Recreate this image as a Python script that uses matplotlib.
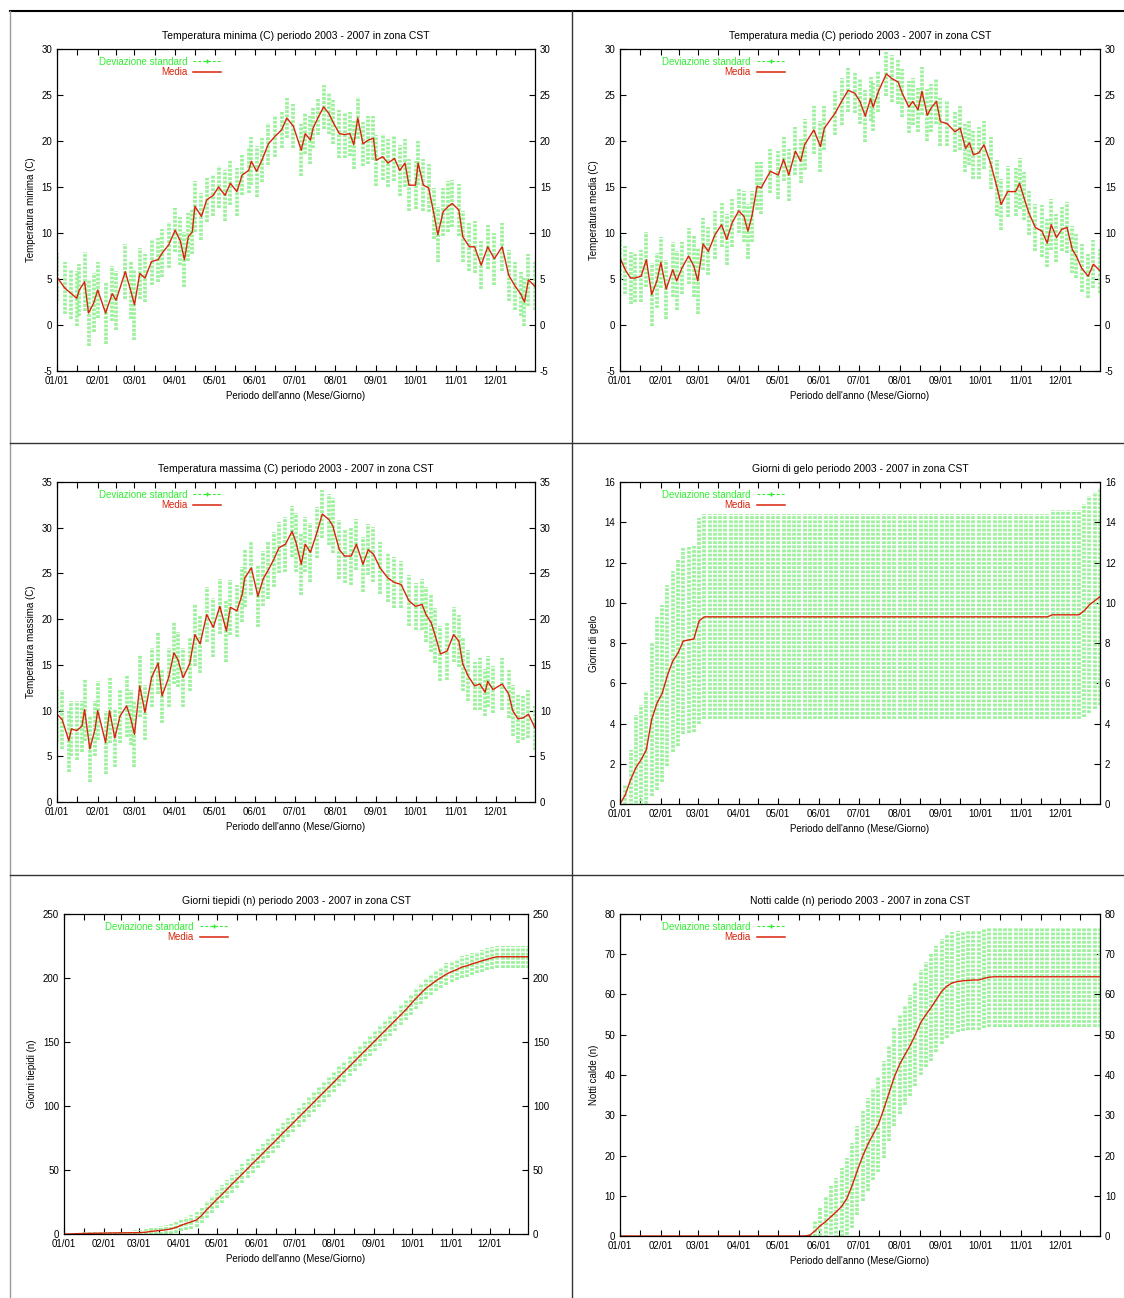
import matplotlib
matplotlib.use("Agg")
import matplotlib.pyplot as plt
from matplotlib.lines import Line2D

plt.rcParams['font.family'] = ['Liberation Sans', 'DejaVu Sans']
plt.rcParams['axes.unicode_minus'] = False
plt.rcParams['lines.scale_dashes'] = False

# asse x comune: giorno dell'anno
month_days = [1, 32, 60, 91, 121, 152, 182, 213, 244, 274, 305, 335]
month_labels = ['01/01', '02/01', '03/01', '04/01', '05/01', '06/01',
                '07/01', '08/01', '09/01', '10/01', '11/01', '12/01']

# 1. Temperatura minima
tmin_days = [1, 7, 12, 16, 18, 22, 25, 29, 32, 38,
             43, 46, 53, 57, 60, 64, 68, 73, 78, 81,
             86, 91, 95, 98, 101, 104, 106, 111, 115, 120,
             124, 129, 133, 138, 142, 147, 149, 153, 157, 162,
             167, 172, 176, 181, 187, 190, 194, 196, 200, 204,
             208, 211, 216, 220, 224, 227, 230, 234, 238, 242,
             244, 249, 253, 258, 262, 266, 269, 274, 276, 280,
             284, 288, 291, 295, 299, 302, 307, 310, 315, 319,
             324, 329, 334, 340, 345, 350, 354, 357, 360, 365]
tmin_mean = [5.2, 4.0, 3.4, 2.9, 3.8, 4.7, 1.3, 2.4, 3.8, 1.3,
             3.4, 2.7, 5.8, 3.8, 2.2, 5.6, 5.1, 6.9, 7.1, 7.8,
             8.7, 10.3, 9.1, 7.1, 9.6, 10.1, 12.9, 11.8, 13.6, 14.1,
             15.0, 14.1, 15.4, 14.5, 16.3, 16.8, 17.8, 16.7, 17.9, 19.7,
             20.5, 21.2, 22.5, 21.6, 19.0, 20.8, 20.1, 21.4, 22.6, 23.7,
             23.0, 22.1, 20.8, 20.7, 20.8, 19.6, 22.5, 19.7, 20.1, 20.3,
             17.9, 18.3, 17.6, 18.1, 16.8, 17.6, 15.2, 15.2, 17.6, 15.2,
             14.9, 12.1, 9.8, 12.3, 12.9, 13.2, 12.5, 9.6, 8.5, 8.5,
             6.5, 8.5, 7.2, 8.5, 5.4, 4.2, 3.4, 2.5, 4.9, 4.2]
tmin_std = [2.6, 2.8, 2.7, 3.0, 2.8, 3.2, 3.6, 3.2, 3.0, 3.4,
            3.0, 3.2, 3.0, 3.2, 3.8, 2.8, 2.6, 2.5, 2.4, 2.6,
            2.5, 2.4, 2.6, 3.0, 2.6, 2.4, 2.8, 2.6, 2.4, 2.2,
            2.3, 2.8, 2.4, 2.6, 2.2, 2.4, 2.6, 2.8, 2.4, 2.3,
            2.2, 2.0, 2.2, 2.4, 2.8, 2.2, 2.6, 2.2, 2.0, 2.4,
            2.2, 2.4, 2.6, 2.5, 2.4, 2.6, 2.3, 2.4, 2.6, 2.4,
            2.8, 2.5, 2.6, 2.4, 2.8, 2.6, 2.8, 2.6, 2.4, 2.8,
            2.6, 2.8, 3.0, 2.6, 2.8, 2.6, 2.8, 2.8, 2.6, 2.8,
            2.6, 2.4, 2.8, 2.6, 2.8, 2.6, 2.4, 2.6, 2.8, 2.6]

# 2. Temperatura media
tmed_days = [1, 5, 9, 12, 17, 21, 25, 29, 32, 36,
             41, 44, 48, 53, 57, 60, 64, 68, 73, 78,
             82, 86, 91, 95, 98, 101, 105, 108, 115, 121,
             125, 129, 134, 138, 141, 148, 153, 156, 164, 169,
             174, 179, 183, 187, 191, 193, 197, 203, 207, 212,
             215, 220, 223, 227, 230, 234, 237, 241, 244, 249,
             255, 259, 263, 266, 269, 273, 277, 282, 287, 290,
             295, 301, 304, 307, 311, 316, 321, 325, 328, 332,
             336, 340, 344, 347, 351, 356, 360, 365]
tmed_mean = [7.3, 6.0, 5.1, 5.1, 5.3, 7.1, 3.3, 4.8, 6.8, 3.9,
             6.0, 4.8, 6.2, 7.5, 6.4, 4.8, 8.8, 8.0, 9.8, 10.9,
             9.3, 11.1, 12.4, 11.8, 10.2, 11.8, 15.1, 14.9, 16.7, 16.3,
             18.0, 16.3, 18.9, 17.8, 19.6, 21.2, 19.4, 21.4, 23.0, 24.3,
             25.5, 25.2, 24.3, 22.7, 24.6, 23.7, 25.4, 27.3, 26.8, 26.4,
             25.2, 23.7, 24.3, 23.4, 25.4, 22.8, 23.6, 24.3, 22.1, 21.9,
             21.0, 21.4, 19.2, 19.8, 18.5, 18.7, 19.6, 17.6, 14.9, 13.1,
             14.5, 14.5, 15.4, 14.0, 12.2, 10.6, 10.2, 8.9, 10.9, 9.5,
             10.4, 10.6, 8.2, 7.5, 6.2, 5.3, 6.6, 5.9]
tmed_std = [2.4, 2.6, 2.8, 2.6, 2.8, 3.0, 3.4, 3.0, 2.8, 3.2,
            3.0, 3.2, 2.8, 3.0, 3.4, 3.6, 2.8, 2.6, 2.6, 2.4,
            2.8, 2.6, 2.4, 2.8, 3.0, 2.8, 2.6, 2.8, 2.4, 2.6,
            2.4, 2.8, 2.6, 2.4, 2.8, 2.6, 2.8, 2.4, 2.4, 2.6,
            2.4, 2.2, 2.4, 2.8, 2.4, 2.6, 2.2, 2.4, 2.6, 2.4,
            2.6, 2.8, 2.6, 2.4, 2.6, 2.8, 2.6, 2.4, 2.6, 2.4,
            2.2, 2.4, 2.6, 2.4, 2.6, 2.8, 2.6, 2.8, 3.0, 2.8,
            2.8, 2.6, 2.8, 2.6, 2.4, 2.6, 2.8, 2.6, 2.8, 2.6,
            2.4, 2.8, 2.6, 2.4, 2.6, 2.4, 2.6, 2.4]

# 3. Temperatura massima
tmax_days = [1, 5, 10, 12, 16, 20, 22, 26, 30, 32,
             38, 41, 45, 49, 54, 57, 60, 64, 68, 73,
             78, 81, 86, 90, 93, 97, 102, 106, 110, 115,
             120, 125, 130, 133, 138, 142, 144, 149, 154, 158,
             162, 166, 170, 175, 180, 183, 187, 190, 194, 199,
             203, 208, 211, 216, 220, 225, 229, 234, 238, 242,
             247, 253, 258, 263, 269, 274, 279, 282, 286, 289,
             293, 298, 303, 307, 310, 314, 319, 323, 327, 329,
             333, 340, 345, 348, 352, 356, 360, 365]
tmax_mean = [9.6, 9.0, 6.7, 8.0, 7.8, 8.3, 10.1, 5.8, 8.0, 10.0,
             6.5, 10.0, 7.0, 9.4, 10.5, 9.2, 7.4, 12.7, 9.8, 13.6,
             15.2, 11.6, 13.6, 16.3, 15.6, 13.6, 15.1, 18.3, 17.3, 20.5,
             19.1, 21.4, 18.7, 21.3, 20.9, 22.7, 24.5, 25.6, 22.5, 24.4,
             25.4, 26.5, 27.8, 28.2, 29.6, 28.4, 26.0, 28.2, 27.3, 29.5,
             31.5, 30.9, 30.2, 27.6, 26.9, 26.9, 28.2, 26.0, 27.6, 27.1,
             25.6, 24.5, 24.0, 23.8, 22.0, 21.4, 21.6, 20.5, 19.6, 18.2,
             16.2, 16.5, 18.3, 17.6, 15.1, 13.8, 12.7, 12.9, 12.0, 13.2,
             12.3, 12.9, 11.8, 10.0, 9.1, 9.2, 9.6, 8.1]
tmax_std = [3.0, 3.2, 3.4, 3.0, 3.2, 2.8, 3.4, 3.6, 3.0, 3.2,
            3.4, 3.6, 3.2, 3.0, 3.4, 3.0, 3.6, 3.4, 3.0, 3.2,
            3.4, 3.0, 3.2, 3.4, 3.0, 3.2, 3.0, 3.4, 3.2, 3.0,
            3.2, 3.0, 3.4, 3.0, 2.8, 3.0, 3.2, 3.0, 3.4, 3.0,
            3.2, 3.0, 2.8, 3.0, 2.8, 3.2, 3.4, 3.0, 3.2, 2.8,
            2.6, 2.8, 3.0, 3.2, 3.0, 3.2, 2.8, 3.0, 2.8, 3.0,
            2.8, 2.6, 2.8, 2.6, 2.8, 2.6, 2.8, 3.0, 3.2, 3.0,
            3.0, 3.2, 3.0, 2.8, 3.0, 2.8, 2.6, 2.8, 2.6, 2.8,
            2.6, 2.8, 2.6, 2.8, 2.6, 2.4, 2.6, 2.4]

# indici cumulati: un valore ogni 4 giorni
cum_days = list(range(1, 366, 4))

# 4. Giorni di gelo
gelo_mean = [0.0, 0.45, 1.2, 1.8, 2.2, 2.7, 4.2, 5.0, 5.5, 6.4,
             7.1, 7.5, 8.1, 8.15, 8.2, 9.1, 9.3, 9.3, 9.3, 9.3,
             9.3, 9.3, 9.3, 9.3, 9.3, 9.3, 9.3, 9.3, 9.3, 9.3,
             9.3, 9.3, 9.3, 9.3, 9.3, 9.3, 9.3, 9.3, 9.3, 9.3,
             9.3, 9.3, 9.3, 9.3, 9.3, 9.3, 9.3, 9.3, 9.3, 9.3,
             9.3, 9.3, 9.3, 9.3, 9.3, 9.3, 9.3, 9.3, 9.3, 9.3,
             9.3, 9.3, 9.3, 9.3, 9.3, 9.3, 9.3, 9.3, 9.3, 9.3,
             9.3, 9.3, 9.3, 9.3, 9.3, 9.3, 9.3, 9.3, 9.3, 9.3,
             9.3, 9.3, 9.4, 9.4, 9.4, 9.4, 9.4, 9.4, 9.6, 9.9,
             10.1, 10.3]
gelo_std = [0.0, 0.5, 1.5, 2.6, 2.7, 2.9, 3.8, 4.3, 4.4, 4.5,
            4.5, 4.6, 4.6, 4.6, 4.6, 5.1, 5.1, 5.1, 5.1, 5.1,
            5.1, 5.1, 5.1, 5.1, 5.1, 5.1, 5.1, 5.1, 5.1, 5.1,
            5.1, 5.1, 5.1, 5.1, 5.1, 5.1, 5.1, 5.1, 5.1, 5.1,
            5.1, 5.1, 5.1, 5.1, 5.1, 5.1, 5.1, 5.1, 5.1, 5.1,
            5.1, 5.1, 5.1, 5.1, 5.1, 5.1, 5.1, 5.1, 5.1, 5.1,
            5.1, 5.1, 5.1, 5.1, 5.1, 5.1, 5.1, 5.1, 5.1, 5.1,
            5.1, 5.1, 5.1, 5.1, 5.1, 5.1, 5.1, 5.1, 5.1, 5.1,
            5.1, 5.1, 5.2, 5.2, 5.2, 5.2, 5.2, 5.2, 5.3, 5.4,
            5.4, 5.4]

# 5. Giorni tiepidi
tiep_mean = [0.0, 0.0, 0.2, 0.3, 0.4, 0.5, 0.6, 0.6, 0.7, 0.8,
             0.8, 0.9, 0.9, 1.0, 1.0, 1.1, 1.4, 2.0, 2.4, 2.8,
             3.3, 4.0, 5.2, 6.8, 8.3, 9.6, 11.0, 14.5, 19.0, 23.0,
             27.2, 31.0, 35.0, 39.2, 43.0, 47.1, 51.0, 55.2, 59.0, 63.0,
             67.1, 71.0, 75.0, 79.2, 83.0, 87.0, 91.1, 95.0, 99.0, 103.0,
             107.1, 111.0, 115.0, 119.0, 123.1, 127.0, 131.0, 135.0, 139.1, 143.0,
             147.0, 151.0, 155.1, 159.0, 163.0, 167.0, 171.0, 175.0, 179.5, 184.0,
             188.0, 192.0, 195.0, 198.0, 200.5, 203.0, 205.0, 206.5, 208.5, 209.5,
             211.0, 212.2, 213.5, 214.6, 215.8, 216.6, 216.6, 216.6, 216.6, 216.6,
             216.6, 216.6]
tiep_std = [0.0, 0.3, 0.6, 0.8, 1.0, 1.1, 1.2, 1.3, 1.4, 1.5,
            1.5, 1.6, 1.6, 1.7, 1.8, 2.0, 2.4, 2.8, 3.0, 3.2,
            3.5, 3.8, 4.2, 4.6, 5.0, 5.4, 5.8, 6.2, 6.6, 6.8,
            7.0, 7.0, 7.1, 7.1, 7.2, 7.2, 7.3, 7.3, 7.3, 7.4,
            7.4, 7.4, 7.5, 7.5, 7.5, 7.6, 7.6, 7.6, 7.7, 7.7,
            7.7, 7.8, 7.8, 7.8, 7.8, 7.9, 7.9, 7.9, 7.9, 8.0,
            8.0, 8.0, 8.0, 8.1, 8.1, 8.1, 8.1, 8.2, 8.2, 8.2,
            8.2, 8.3, 8.3, 8.3, 8.3, 8.4, 8.4, 8.4, 8.4, 8.4,
            8.5, 8.5, 8.5, 8.5, 8.5, 8.5, 8.5, 8.5, 8.5, 8.5,
            8.5, 8.5]

# 6. Notti calde
calde_mean = [0.0, 0.0, 0.0, 0.0, 0.0, 0.0, 0.0, 0.0, 0.0, 0.0,
              0.0, 0.0, 0.0, 0.0, 0.0, 0.0, 0.0, 0.0, 0.0, 0.0,
              0.0, 0.0, 0.0, 0.0, 0.0, 0.0, 0.0, 0.0, 0.0, 0.0,
              0.0, 0.0, 0.0, 0.0, 0.0, 0.0, 0.2, 1.3, 2.6, 3.6,
              4.8, 6.0, 7.3, 9.3, 12.5, 16.3, 19.8, 22.8, 25.3, 27.8,
              31.5, 35.5, 39.5, 42.6, 45.0, 47.3, 50.0, 53.0, 55.0, 56.8,
              58.8, 60.8, 62.1, 62.9, 63.2, 63.4, 63.5, 63.6, 63.6, 64.0,
              64.3, 64.4, 64.4, 64.4, 64.4, 64.4, 64.4, 64.4, 64.4, 64.4,
              64.4, 64.4, 64.4, 64.4, 64.4, 64.4, 64.4, 64.4, 64.4, 64.4,
              64.4, 64.4]
calde_std = [0.0, 0.0, 0.0, 0.0, 0.0, 0.0, 0.0, 0.0, 0.0, 0.0,
             0.0, 0.0, 0.0, 0.0, 0.0, 0.0, 0.0, 0.0, 0.0, 0.0,
             0.0, 0.0, 0.0, 0.0, 0.0, 0.0, 0.0, 0.0, 0.0, 0.0,
             0.0, 0.0, 0.0, 0.0, 0.0, 0.0, 0.5, 2.5, 4.5, 6.0,
             7.5, 8.5, 9.5, 10.0, 10.5, 11.0, 11.2, 11.5, 11.5, 11.8,
             12.0, 12.0, 12.2, 12.3, 12.5, 12.6, 12.8, 13.0, 13.0, 13.2,
             13.2, 13.0, 12.8, 12.6, 12.5, 12.4, 12.4, 12.4, 12.4, 12.4,
             12.4, 12.4, 12.4, 12.4, 12.4, 12.4, 12.4, 12.4, 12.4, 12.4,
             12.4, 12.4, 12.4, 12.4, 12.4, 12.4, 12.4, 12.4, 12.4, 12.4,
             12.4, 12.4]

GREEN = '#33ee33'
GREEN_BAR = '#9cf29c'
RED = '#d8240c'

fig = plt.figure(figsize=(11.24, 12.98), dpi=100)


def pannello(rect, days, mean, std, ylim, yticks, titolo, ylab, leg_x):
    ax = fig.add_axes(rect)
    eb = ax.errorbar(days, mean, yerr=std, fmt='none', ecolor=GREEN_BAR,
                     elinewidth=2.7, capsize=0)
    for lc in eb.lines[2]:
        lc.set_linestyle((0, (2.0, 1.0)))
    ax.plot(days, mean, color=RED, lw=1.0)
    ax.set_xlim(1, 365)
    ax.set_ylim(*ylim)
    ax.set_yticks(yticks)
    ax.set_xticks(month_days, month_labels)
    mid = [(a + b) / 2 for a, b in zip(month_days, month_days[1:] + [365])]
    ax.set_xticks(mid, minor=True)
    ax.tick_params(which='both', direction='in', top=True, right=True,
                   labelright=True, labelsize=7, length=4, width=0.8)
    for s in ax.spines.values():
        s.set_linewidth(0.9)
    ax.set_title(titolo, fontsize=7.5, pad=7)
    ax.set_ylabel(ylab, fontsize=7, labelpad=4)
    ax.set_xlabel("Periodo dell'anno (Mese/Giorno)", fontsize=7, labelpad=4)
    handles = [Line2D([], [], color=GREEN, ls=(0, (2, 1.5)), lw=0.8, marker='+', ms=3),
               Line2D([], [], color=RED, lw=1.1)]
    ax.legend(handles, ['Deviazione standard', 'Media'], loc='upper right',
              bbox_to_anchor=(leg_x, 1.0), frameon=False, markerfirst=False,
              alignment='right', fontsize=7, handlelength=2.9, numpoints=1,
              handletextpad=0.6, labelspacing=0.05, borderpad=0.3,
              labelcolor=[GREEN, RED])
    return ax


W, H = 1124.0, 1298.0


def rect(x0, x1, y0, y1):
    return [x0 / W, 1 - y1 / H, (x1 - x0) / W, (y1 - y0) / H]


pannello(rect(57, 535, 49, 371), tmin_days, tmin_mean, tmin_std, (-5, 30),
         range(-5, 31, 5), 'Temperatura minima (C) periodo 2003 - 2007 in zona CST',
         'Temperatura minima (C)', 0.36)
pannello(rect(620, 1100, 49, 371), tmed_days, tmed_mean, tmed_std, (-5, 30),
         range(-5, 31, 5), 'Temperatura media (C) periodo 2003 - 2007 in zona CST',
         'Temperatura media (C)', 0.36)
pannello(rect(57, 535, 482, 802), tmax_days, tmax_mean, tmax_std, (0, 35),
         range(0, 36, 5), 'Temperatura massima (C) periodo 2003 - 2007 in zona CST',
         'Temperatura massima (C)', 0.36)
pannello(rect(620, 1100, 482, 804), cum_days, gelo_mean, gelo_std, (0, 16),
         range(0, 17, 2), 'Giorni di gelo periodo 2003 - 2007 in zona CST',
         'Giorni di gelo', 0.36)
pannello(rect(64, 528, 914, 1234), cum_days, tiep_mean, tiep_std, (0, 250),
         range(0, 251, 50), 'Giorni tiepidi (n) periodo 2003 - 2007 in zona CST',
         'Giorni tiepidi (n)', 0.37)
pannello(rect(620, 1100, 914, 1236), cum_days, calde_mean, calde_std, (0, 80),
         range(0, 81, 10), 'Notti calde (n) periodo 2003 - 2007 in zona CST',
         'Notti calde (n)', 0.36)

# bordi della tabella
fig.add_artist(Line2D([10 / W, 1], [1 - 11 / H, 1 - 11 / H], color='black', lw=1.5))
fig.add_artist(Line2D([10 / W, 10 / W], [0, 1 - 11 / H], color='#9a9a9a', lw=1.0))
fig.add_artist(Line2D([572 / W, 572 / W], [0, 1 - 11 / H], color='#333333', lw=1.0))
for yb in (443, 875):
    fig.add_artist(Line2D([10 / W, 1], [1 - yb / H, 1 - yb / H], color='#333333', lw=1.0))

fig.savefig('out.png', dpi=100)
